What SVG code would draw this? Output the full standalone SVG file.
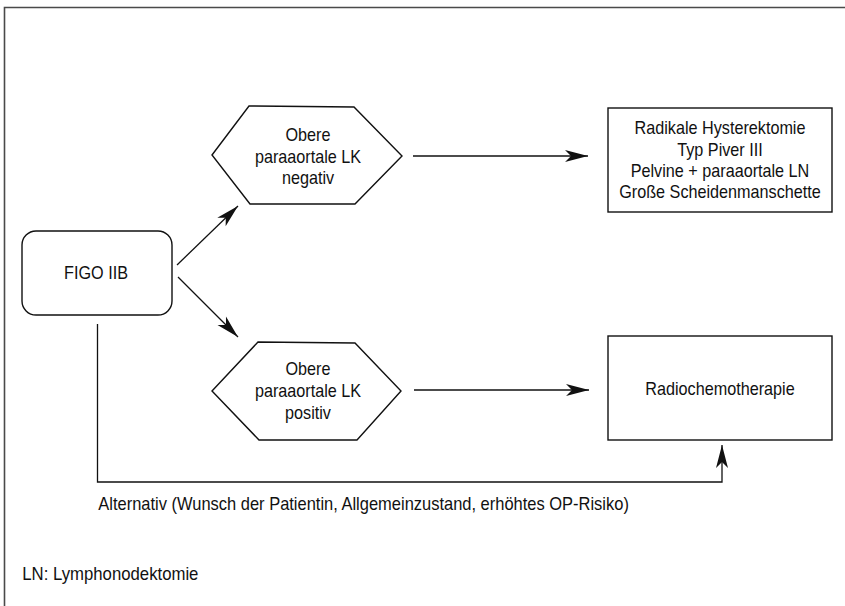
<svg xmlns="http://www.w3.org/2000/svg" width="845" height="606" viewBox="0 0 845 606">
<style>
.frame{fill:none;stroke:#4a4a4a;stroke-width:1.6}
.node{fill:#fff;stroke:#111;stroke-width:1.4}
.edge{fill:none;stroke:#111;stroke-width:1.3}
text{font-family:"Liberation Sans",Arial,sans-serif;font-size:18px;fill:#111}
.c{text-anchor:middle}
</style>
<defs>
<marker id="ah" markerUnits="userSpaceOnUse" markerWidth="24" markerHeight="13" refX="23" refY="6" orient="auto" overflow="visible">
<path d="M0,0 L23,6 L0,12 L6,6 Z" fill="#111"/>
</marker>
</defs>
<rect width="845" height="606" fill="#fff"/>
<path class="frame" d="M4.5,606 V7.5 H845"/>

<g id="connectors">
<line class="edge" x1="177" y1="265" x2="238" y2="206" marker-end="url(#ah)"/>
<line class="edge" x1="178" y1="277" x2="238" y2="337" marker-end="url(#ah)"/>
<line class="edge" x1="413" y1="156" x2="588" y2="156" marker-end="url(#ah)"/>
<line class="edge" x1="414" y1="390" x2="589" y2="390" marker-end="url(#ah)"/>
<path class="edge" d="M97.5,324 V482 H722 V445" marker-end="url(#ah)"/>
</g>

<g id="figo">
<rect class="node" x="22" y="231" width="150" height="84" rx="14"/>
<text class="c" transform="translate(96,279) scale(0.9,1)">FIGO IIB</text>
</g>

<g id="lk-negativ">
<polygon class="node" points="212,155 249,106 354,107 402,156 355,204 250,204"/>
<text class="c" transform="translate(308,141) scale(0.9,1)">Obere</text>
<text class="c" transform="translate(308,162.5) scale(0.9,1)">paraaortale LK</text>
<text class="c" transform="translate(308,184) scale(0.9,1)">negativ</text>
</g>

<g id="lk-positiv">
<polygon class="node" points="212,391 258,342 355,343 401,391 357,440 259,440"/>
<text class="c" transform="translate(308,375) scale(0.9,1)">Obere</text>
<text class="c" transform="translate(308,397) scale(0.9,1)">paraaortale LK</text>
<text class="c" transform="translate(308,418.5) scale(0.9,1)">positiv</text>
</g>

<g id="hysterektomie">
<rect class="node" x="608" y="108" width="224" height="104"/>
<text class="c" transform="translate(720,134) scale(0.9,1)">Radikale Hysterektomie</text>
<text class="c" transform="translate(720,155.5) scale(0.9,1)">Typ Piver III</text>
<text class="c" transform="translate(720,176.7) scale(0.9,1)">Pelvine + paraaortale LN</text>
<text class="c" transform="translate(720,197.5) scale(0.9,1)">Große Scheidenmanschette</text>
</g>

<g id="radiochemo">
<rect class="node" x="608" y="336" width="224" height="104"/>
<text class="c" transform="translate(720,395) scale(0.9,1)">Radiochemotherapie</text>
</g>

<g id="labels">
<text transform="translate(98.3,510) scale(0.915,1)">Alternativ (Wunsch der Patientin, Allgemeinzustand, erhöhtes OP-Risiko)</text>
<text transform="translate(22.3,580) scale(0.93,1)">LN: Lymphonodektomie</text>
</g>
</svg>
